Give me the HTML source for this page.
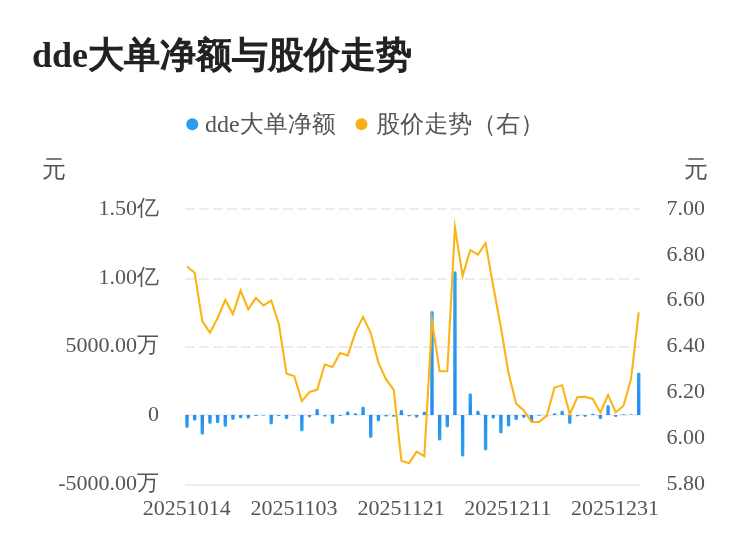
<!DOCTYPE html>
<html lang="zh-CN">
<head>
<meta charset="utf-8">
<title>dde大单净额与股价走势</title>
<style>
html,body{margin:0;padding:0;background:#fff;}
body{width:750px;height:558px;overflow:hidden;font-family:"Liberation Serif","WenQuanYi Zen Hei",serif;}
svg{display:block;}
text{font-family:"Liberation Serif","WenQuanYi Zen Hei",serif;}
.title{font-size:36px;font-weight:bold;fill:#222;}
.tcjk{font-weight:normal;stroke:#222;stroke-width:1.5px;}
.lg{font-size:24px;fill:#555;}
.ax{font-size:22px;fill:#555;}
</style>
</head>
<body>
<svg width="750" height="558" viewBox="0 0 750 558">
<defs>
<linearGradient id="gp" x1="0" y1="1" x2="0" y2="0"><stop offset="0" stop-color="#2389f0"/><stop offset="1" stop-color="#2fa3ee"/></linearGradient>
<linearGradient id="gn" x1="0" y1="0" x2="0" y2="1"><stop offset="0" stop-color="#2389f0"/><stop offset="1" stop-color="#2fa3ee"/></linearGradient>
</defs>
<rect width="750" height="558" fill="#fff"/>
<text x="32" y="67" class="title">dde<tspan class="tcjk">大单净额与股价走势</tspan></text>
<circle cx="192.3" cy="124.2" r="6" fill="#2d9bf0"/>
<text x="205" y="132" class="lg">dde大单净额</text>
<circle cx="361.5" cy="124.2" r="6" fill="#fbb01a"/>
<text x="376.3" y="132" class="lg">股价走势（右）</text>
<text x="42" y="177" class="lg">元</text>
<text x="684" y="177" class="lg">元</text>
<line x1="185" y1="209" x2="640.5" y2="209" stroke="#ececec" stroke-width="2" stroke-dasharray="10 4"/>
<line x1="185" y1="279" x2="640.5" y2="279" stroke="#ececec" stroke-width="2" stroke-dasharray="10 4"/>
<line x1="185" y1="347" x2="640.5" y2="347" stroke="#ececec" stroke-width="2" stroke-dasharray="10 4"/>
<line x1="185" y1="415" x2="640.5" y2="415" stroke="#ececec" stroke-width="2" stroke-dasharray="10 4"/>
<line x1="185" y1="485" x2="640.5" y2="485" stroke="#ececec" stroke-width="2"/>
<text x="159" y="215.1" text-anchor="end" class="ax">1.50亿</text>
<text x="159" y="283.9" text-anchor="end" class="ax">1.00亿</text>
<text x="159" y="352.0" text-anchor="end" class="ax">5000.00万</text>
<text x="159" y="421.0" text-anchor="end" class="ax">0</text>
<text x="159" y="490.1" text-anchor="end" class="ax">-5000.00万</text>
<text x="666.5" y="215.2" class="ax">7.00</text>
<text x="666.5" y="261.0" class="ax">6.80</text>
<text x="666.5" y="306.0" class="ax">6.60</text>
<text x="666.5" y="351.5" class="ax">6.40</text>
<text x="666.5" y="398.0" class="ax">6.20</text>
<text x="666.5" y="444.2" class="ax">6.00</text>
<text x="666.5" y="490.0" class="ax">5.80</text>
<text x="186.7" y="515.3" text-anchor="middle" class="ax">20251014</text>
<text x="294.0" y="515.3" text-anchor="middle" class="ax">20251103</text>
<text x="401.2" y="515.3" text-anchor="middle" class="ax">20251121</text>
<text x="507.8" y="515.3" text-anchor="middle" class="ax">20251211</text>
<text x="615.0" y="515.3" text-anchor="middle" class="ax">20251231</text>
<g>
<path d="M185.30,415.0 L185.30,426.30 A1.7,1.7 0 0 0 188.70,426.30 L188.70,415.0 Z" fill="url(#gn)"/>
<path d="M192.96,415.0 L192.96,419.00 A1.7,1.7 0 0 0 196.36,419.00 L196.36,415.0 Z" fill="url(#gn)"/>
<path d="M200.61,415.0 L200.61,433.00 A1.7,1.7 0 0 0 204.01,433.00 L204.01,415.0 Z" fill="url(#gn)"/>
<path d="M208.27,415.0 L208.27,422.30 A1.7,1.7 0 0 0 211.67,422.30 L211.67,415.0 Z" fill="url(#gn)"/>
<path d="M215.92,415.0 L215.92,421.60 A1.7,1.7 0 0 0 219.32,421.60 L219.32,415.0 Z" fill="url(#gn)"/>
<path d="M223.58,415.0 L223.58,425.20 A1.7,1.7 0 0 0 226.98,425.20 L226.98,415.0 Z" fill="url(#gn)"/>
<path d="M231.24,415.0 L231.24,418.30 A1.7,1.7 0 0 0 234.64,418.30 L234.64,415.0 Z" fill="url(#gn)"/>
<path d="M238.89,415.0 L238.89,416.70 A1.7,1.7 0 0 0 242.29,416.70 L242.29,415.0 Z" fill="url(#gn)"/>
<path d="M246.55,415.0 L246.55,417.00 A1.7,1.7 0 0 0 249.95,417.00 L249.95,415.0 Z" fill="url(#gn)"/>
<rect x="254.20" y="415.00" width="3.4" height="1.10" rx="0.55" fill="url(#gn)"/>
<rect x="261.86" y="415.00" width="3.4" height="0.60" rx="0.25" fill="url(#gn)"/>
<path d="M269.52,415.0 L269.52,422.70 A1.7,1.7 0 0 0 272.92,422.70 L272.92,415.0 Z" fill="url(#gn)"/>
<rect x="277.17" y="415.00" width="3.4" height="1.00" rx="0.50" fill="url(#gn)"/>
<path d="M284.83,415.0 L284.83,417.50 A1.7,1.7 0 0 0 288.23,417.50 L288.23,415.0 Z" fill="url(#gn)"/>
<rect x="292.48" y="415.00" width="3.4" height="0.60" rx="0.20" fill="url(#gn)"/>
<path d="M300.14,415.0 L300.14,429.80 A1.7,1.7 0 0 0 303.54,429.80 L303.54,415.0 Z" fill="url(#gn)"/>
<path d="M307.80,415.0 L307.80,415.70 A1.7,1.7 0 0 0 311.20,415.70 L311.20,415.0 Z" fill="url(#gn)"/>
<path d="M315.45,415.0 L315.45,410.40 A1.7,1.7 0 0 1 318.85,410.40 L318.85,415.0 Z" fill="url(#gp)"/>
<rect x="323.11" y="415.00" width="3.4" height="1.40" rx="0.70" fill="url(#gn)"/>
<path d="M330.76,415.0 L330.76,422.30 A1.7,1.7 0 0 0 334.16,422.30 L334.16,415.0 Z" fill="url(#gn)"/>
<rect x="338.42" y="415.00" width="3.4" height="0.90" rx="0.45" fill="url(#gn)"/>
<path d="M346.08,415.0 L346.08,412.90 A1.7,1.7 0 0 1 349.48,412.90 L349.48,415.0 Z" fill="url(#gp)"/>
<rect x="353.73" y="413.30" width="3.4" height="1.70" rx="0.85" fill="url(#gp)"/>
<path d="M361.39,415.0 L361.39,408.20 A1.7,1.7 0 0 1 364.79,408.20 L364.79,415.0 Z" fill="url(#gp)"/>
<path d="M369.04,415.0 L369.04,436.20 A1.7,1.7 0 0 0 372.44,436.20 L372.44,415.0 Z" fill="url(#gn)"/>
<path d="M376.70,415.0 L376.70,419.70 A1.7,1.7 0 0 0 380.10,419.70 L380.10,415.0 Z" fill="url(#gn)"/>
<rect x="384.36" y="415.00" width="3.4" height="1.40" rx="0.70" fill="url(#gn)"/>
<rect x="392.01" y="415.00" width="3.4" height="1.70" rx="0.85" fill="url(#gn)"/>
<path d="M399.67,415.0 L399.67,411.50 A1.7,1.7 0 0 1 403.07,411.50 L403.07,415.0 Z" fill="url(#gp)"/>
<rect x="407.32" y="415.00" width="3.4" height="1.20" rx="0.60" fill="url(#gn)"/>
<path d="M414.98,415.0 L414.98,416.00 A1.7,1.7 0 0 0 418.38,416.00 L418.38,415.0 Z" fill="url(#gn)"/>
<path d="M422.64,415.0 L422.64,413.10 A1.7,1.7 0 0 1 426.04,413.10 L426.04,415.0 Z" fill="url(#gp)"/>
<path d="M430.29,415.0 L430.29,312.70 A1.7,1.7 0 0 1 433.69,312.70 L433.69,415.0 Z" fill="url(#gp)"/>
<path d="M437.95,415.0 L437.95,438.90 A1.7,1.7 0 0 0 441.35,438.90 L441.35,415.0 Z" fill="url(#gn)"/>
<path d="M445.60,415.0 L445.60,425.70 A1.7,1.7 0 0 0 449.00,425.70 L449.00,415.0 Z" fill="url(#gn)"/>
<path d="M453.26,415.0 L453.26,272.90 A1.7,1.7 0 0 1 456.66,272.90 L456.66,415.0 Z" fill="url(#gp)"/>
<path d="M460.92,415.0 L460.92,454.90 A1.7,1.7 0 0 0 464.32,454.90 L464.32,415.0 Z" fill="url(#gn)"/>
<path d="M468.57,415.0 L468.57,394.90 A1.7,1.7 0 0 1 471.97,394.90 L471.97,415.0 Z" fill="url(#gp)"/>
<path d="M476.23,415.0 L476.23,412.30 A1.7,1.7 0 0 1 479.63,412.30 L479.63,415.0 Z" fill="url(#gp)"/>
<path d="M483.88,415.0 L483.88,448.80 A1.7,1.7 0 0 0 487.28,448.80 L487.28,415.0 Z" fill="url(#gn)"/>
<path d="M491.54,415.0 L491.54,417.00 A1.7,1.7 0 0 0 494.94,417.00 L494.94,415.0 Z" fill="url(#gn)"/>
<path d="M499.20,415.0 L499.20,431.90 A1.7,1.7 0 0 0 502.60,431.90 L502.60,415.0 Z" fill="url(#gn)"/>
<path d="M506.85,415.0 L506.85,424.90 A1.7,1.7 0 0 0 510.25,424.90 L510.25,415.0 Z" fill="url(#gn)"/>
<path d="M514.51,415.0 L514.51,418.50 A1.7,1.7 0 0 0 517.91,418.50 L517.91,415.0 Z" fill="url(#gn)"/>
<path d="M522.16,415.0 L522.16,416.30 A1.7,1.7 0 0 0 525.56,416.30 L525.56,415.0 Z" fill="url(#gn)"/>
<path d="M529.82,415.0 L529.82,420.60 A1.7,1.7 0 0 0 533.22,420.60 L533.22,415.0 Z" fill="url(#gn)"/>
<rect x="537.48" y="415.00" width="3.4" height="0.70" rx="0.35" fill="url(#gn)"/>
<rect x="545.13" y="415.00" width="3.4" height="1.30" rx="0.65" fill="url(#gn)"/>
<rect x="552.79" y="413.30" width="3.4" height="1.70" rx="0.85" fill="url(#gp)"/>
<path d="M560.44,415.0 L560.44,412.30 A1.7,1.7 0 0 1 563.84,412.30 L563.84,415.0 Z" fill="url(#gp)"/>
<path d="M568.10,415.0 L568.10,422.30 A1.7,1.7 0 0 0 571.50,422.30 L571.50,415.0 Z" fill="url(#gn)"/>
<rect x="575.76" y="415.00" width="3.4" height="1.30" rx="0.65" fill="url(#gn)"/>
<path d="M583.41,415.0 L583.41,415.20 A1.7,1.7 0 0 0 586.81,415.20 L586.81,415.0 Z" fill="url(#gn)"/>
<rect x="591.07" y="413.70" width="3.4" height="1.30" rx="0.65" fill="url(#gp)"/>
<path d="M598.72,415.0 L598.72,417.60 A1.7,1.7 0 0 0 602.12,417.60 L602.12,415.0 Z" fill="url(#gn)"/>
<path d="M606.38,415.0 L606.38,406.70 A1.7,1.7 0 0 1 609.78,406.70 L609.78,415.0 Z" fill="url(#gp)"/>
<path d="M614.04,415.0 L614.04,415.40 A1.7,1.7 0 0 0 617.44,415.40 L617.44,415.0 Z" fill="url(#gn)"/>
<rect x="621.69" y="414.30" width="3.4" height="0.70" rx="0.35" fill="url(#gp)"/>
<rect x="629.35" y="414.30" width="3.4" height="0.70" rx="0.35" fill="url(#gp)"/>
<path d="M637.00,415.0 L637.00,374.10 A1.7,1.7 0 0 1 640.40,374.10 L640.40,415.0 Z" fill="url(#gp)"/>
</g>
<polyline points="187.00,266.50 194.66,272.70 202.31,321.10 209.97,332.70 217.62,318.00 225.28,300.00 232.94,314.10 240.59,290.60 248.25,309.40 255.90,298.00 263.56,305.40 271.22,300.50 278.87,324.00 286.53,373.70 294.18,376.00 301.84,401.10 309.50,392.00 317.15,389.80 324.81,364.50 332.46,367.00 340.12,353.00 347.78,355.40 355.43,332.40 363.09,316.80 370.74,333.00 378.40,362.60 386.06,379.40 393.71,389.60 401.37,460.75 409.02,463.20 416.68,451.70 424.34,456.20 431.99,320.80 439.65,371.30 447.30,371.30 454.96,227.50 462.62,275.80 470.27,250.20 477.93,254.50 485.58,243.20 493.24,286.00 500.90,327.50 508.55,373.30 516.21,403.80 523.86,410.50 531.52,422.00 539.18,422.00 546.83,415.60 554.49,387.50 562.14,385.30 569.80,414.30 577.46,397.00 585.11,396.90 592.77,399.00 600.42,412.70 608.08,395.00 615.74,412.20 623.39,406.00 631.05,379.10 638.70,312.30" fill="none" stroke="#fbb414" stroke-width="2.1" stroke-linejoin="miter" stroke-miterlimit="10"/>
</svg>
</body>
</html>
